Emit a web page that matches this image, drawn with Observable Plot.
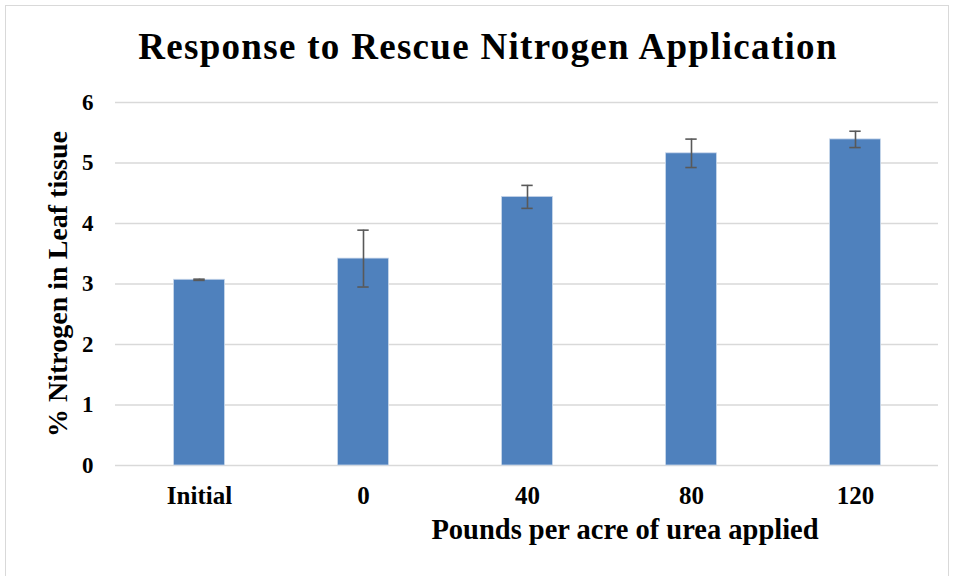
<!DOCTYPE html>
<html>
<head>
<meta charset="utf-8">
<script src="https://cdn.jsdelivr.net/npm/d3@7"></script>
<script src="https://cdn.jsdelivr.net/npm/@observablehq/plot@0.6"></script>
<style>
  html, body { margin: 0; padding: 0; background: #fff; }
  #wrap { position: relative; width: 956px; height: 576px; overflow: hidden; background: #fff; }
  #frame { position: absolute; left: 5px; top: 5px; width: 944px; height: 600px; border: 1px solid #d9d9d9; box-sizing: border-box; }
  #title { position: absolute; left: 0; top: 26px; width: 976px; text-align: center; white-space: nowrap;
    font-family: "Liberation Serif", serif; font-weight: bold; font-size: 37px; letter-spacing: 1.3px; color: #000; line-height: 41px; }
  #chart { position: absolute; left: 0; top: 85px; }
</style>
</head>
<body>
<div id="wrap">
  <div id="frame"></div>
  <div id="title">Response to Rescue Nitrogen Application</div>
  <div id="chart"></div>
</div>
<script>
const categories = ["Initial", "0", "40", "80", "120"];
const values = [3.07, 3.42, 4.44, 5.16, 5.39];
const errors = [0.01, 0.47, 0.19, 0.235, 0.135];
const yTicks = [0, 1, 2, 3, 4, 5, 6];

const data = categories.map((c, i) => ({cat: c, v: values[i], lo: values[i] - errors[i], hi: values[i] + errors[i]}));

const font = "Liberation Serif, serif";
const W = 956, H = 491;
const mL = 115, mR = 18, mT = 17, mB = 111;
const step = (W - mL - mR) / categories.length;
const barW = 51.5, capW = 12;

const chart = Plot.plot({
  width: W, height: H,
  marginLeft: mL, marginRight: mR, marginTop: mT, marginBottom: mB,
  style: {fontFamily: font, background: "transparent", overflow: "visible"},
  x: {domain: categories, padding: 0, label: null},
  y: {domain: [0, 6], label: null},
  marks: [
    Plot.ruleY(yTicks, {stroke: "#d9d9d9", strokeWidth: 1.5}),
    Plot.barY(data, {x: "cat", y: "v", fill: "#4F81BD", stroke: "#c9d7ea", strokeWidth: 0.8,
      insetLeft: (step - barW) / 2, insetRight: (step - barW) / 2}),
    Plot.ruleX(data, {x: "cat", y1: "lo", y2: "hi", stroke: "#595959", strokeWidth: 1.6}),
    Plot.tickY(data, {x: "cat", y: "lo", stroke: "#595959", strokeWidth: 1.6,
      insetLeft: (step - capW) / 2, insetRight: (step - capW) / 2}),
    Plot.tickY(data, {x: "cat", y: "hi", stroke: "#595959", strokeWidth: 1.6,
      insetLeft: (step - capW) / 2, insetRight: (step - capW) / 2}),
    Plot.axisY(yTicks, {tickSize: 0, tickPadding: 22, tickFormat: d3.format("d"), fontSize: 23, fontWeight: "bold", fill: "#000", label: null}),
    Plot.axisX({tickSize: 0, tickPadding: 21, fontSize: 25, fontWeight: "bold", fill: "#000", label: null}),
    Plot.text(["Pounds per acre of urea applied"], {frameAnchor: "bottom", lineAnchor: "middle", dy: 64, dx: 98, fontSize: 28.5, fontWeight: "bold", fill: "#000"}),
    Plot.text(["% Nitrogen in Leaf tissue"], {frameAnchor: "left", textAnchor: "middle", dx: -57, dy: 0, rotate: -90, fontSize: 28, fontWeight: "bold", fill: "#000"})
  ]
});
document.getElementById("chart").appendChild(chart);
</script>
</body>
</html>
